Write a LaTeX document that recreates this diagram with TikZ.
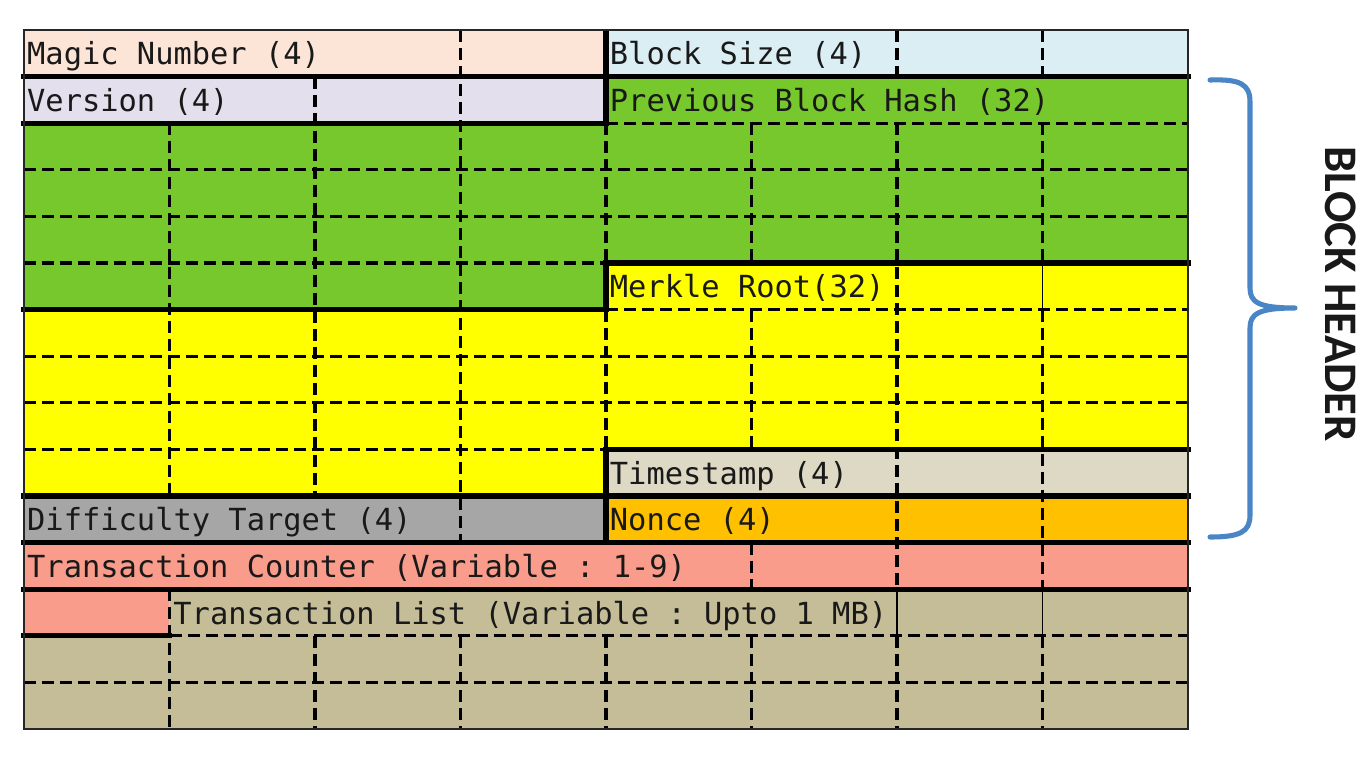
\documentclass[tikz,border=0pt]{standalone}
\usepackage{fontspec}
\setmonofont{DejaVu Sans Mono}
\newfontfamily\hdrfont{Carlito}
\definecolor{cMagic}{HTML}{FCE4D6}
\definecolor{cBsize}{HTML}{DAEEF3}
\definecolor{cVer}{HTML}{E4DFEC}
\definecolor{cGreen}{HTML}{77C82C}
\definecolor{cYellow}{HTML}{FFFF00}
\definecolor{cTime}{HTML}{DDD9C4}
\definecolor{cDiff}{HTML}{A6A6A6}
\definecolor{cNonce}{HTML}{FFC000}
\definecolor{cTxc}{HTML}{FA9C8B}
\definecolor{cTxl}{HTML}{C4BD97}
\definecolor{cBrace}{HTML}{4A86C6}
\begin{document}
\begin{tikzpicture}[x=109.125pt, y=-34.95pt,
  dline/.style={line width=2.5pt, dash pattern=on 9pt off 4.5pt, black},
  thinline/.style={line width=1pt, black},
  sep/.style={line width=3.8pt, black, line cap=rect},
  vsep/.style={line width=3.8pt, black, line cap=butt},
  border/.style={line width=1.8pt, black!85},
  lbl/.style={anchor=base west, inner sep=0pt, font=\ttfamily\fontsize{22.8}{26}\selectfont, text=black!90},
  braceline/.style={line width=3.8pt, cBrace, line join=round, line cap=round},
  hdr/.style={rotate=-90, inner sep=0pt, font=\hdrfont\bfseries\fontsize{35}{40}\selectfont, text=black!90}]
\useasboundingbox (-0.164948,-0.643777) rectangle (9.250859,15.922747);
% fills
\fill[cMagic] (0,0) rectangle (4,1);
\fill[cBsize] (4,0) rectangle (8,1);
\fill[cVer] (0,1) rectangle (4,2);
\fill[cGreen] (4,1) -- (8,1) -- (8,5) -- (4,5) -- (4,6) -- (0,6) -- (0,2) -- (4,2) -- cycle;
\fill[cYellow] (4,5) -- (8,5) -- (8,9) -- (4,9) -- (4,10) -- (0,10) -- (0,6) -- (4,6) -- cycle;
\fill[cTime] (4,9) rectangle (8,10);
\fill[cDiff] (0,10) rectangle (4,11);
\fill[cNonce] (4,10) rectangle (8,11);
\fill[cTxc] (0,11) -- (8,11) -- (8,12) -- (1,12) -- (1,13) -- (0,13) -- cycle;
\fill[cTxl] (1,12) -- (8,12) -- (8,15) -- (0,15) -- (0,13) -- (1,13) -- cycle;
% dashed verticals
\foreach \x/\a/\b in {1/2/10, 1/12/15,
                      2/1/10, 2/13/15,
                      3/0/11, 3/13/15,
                      4/2/5, 4/6/9, 4/13/15,
                      5/2/5, 5/6/9, 5/11/12, 5/13/15,
                      6/0/1, 6/2/12, 6/13/15,
                      7/0/1, 7/2/5, 7/6/12, 7/13/15}
  \draw[dline] (\x,\a) -- (\x,\b);
% dashed horizontals
\foreach \y/\a/\b in {2/4/8, 3/0/8, 4/0/8, 5/0/4, 6/4/8, 7/0/8, 8/0/8, 9/0/4, 13/1/8, 14/0/8}
  \draw[dline] (\a,\y) -- (\b,\y);
% thin solid
\draw[thinline] (7,5) -- (7,6);
\draw[thinline] (6,12) -- (6,13);
\draw[thinline] (7,12) -- (7,13);
% thick separators
\draw[sep] (0,1) -- (8,1);
\draw[sep] (0,2) -- (4,2);
\draw[vsep] (4,0) -- (4,2);
\draw[sep] (4,5) -- (8,5);
\draw[sep] (0,6) -- (4,6);
\draw[vsep] (4,5) -- (4,6);
\draw[sep] (4,9) -- (8,9);
\draw[sep] (0,10) -- (8,10);
\draw[vsep] (4,9) -- (4,11);
\draw[sep] (0,11) -- (8,11);
\draw[sep] (0,12) -- (8,12);
\draw[sep] (0,13) -- (1,13);
% outer border
\draw[border] (0,0) rectangle (8,15);
% labels
\node[lbl] (magic) at (0.02,0.75) {Magic Number (4)};
\node[lbl] (bsize) at (4.025,0.75) {Block Size (4)};
\node[lbl] (version) at (0.02,1.75) {Version (4)};
\node[lbl] (prevhash) at (4.025,1.75) {Previous Block Hash (32)};
\node[lbl] (merkle) at (4.025,5.75) {Merkle Root(32)};
\node[lbl] (tstamp) at (4.025,9.75) {Timestamp (4)};
\node[lbl] (diff) at (0.02,10.75) {Difficulty Target (4)};
\node[lbl] (nonce) at (4.025,10.75) {Nonce (4)};
\node[lbl] (txcount) at (0.02,11.75) {Transaction Counter (Variable : 1-9)};
\node[lbl] (txlist) at (1.025,12.75) {Transaction List (Variable : Upto 1 MB)};
% brace and header label
\begin{scope}[x=0.75pt, y=-0.75pt, shift={(-18pt,22.5pt)}]
  \draw[braceline] (1210,80) .. controls (1240,79) and (1250,84) .. (1250,102)
     -- (1250,288) .. controls (1250,302) and (1258,308) .. (1295,308)
     .. controls (1258,308) and (1250,314) .. (1250,328)
     -- (1250,515) .. controls (1250,532) and (1240,537) .. (1210,537);
  \node[hdr] (header) at (1341,294) {BLOCK HEADER};
\end{scope}
\end{tikzpicture}
\end{document}
